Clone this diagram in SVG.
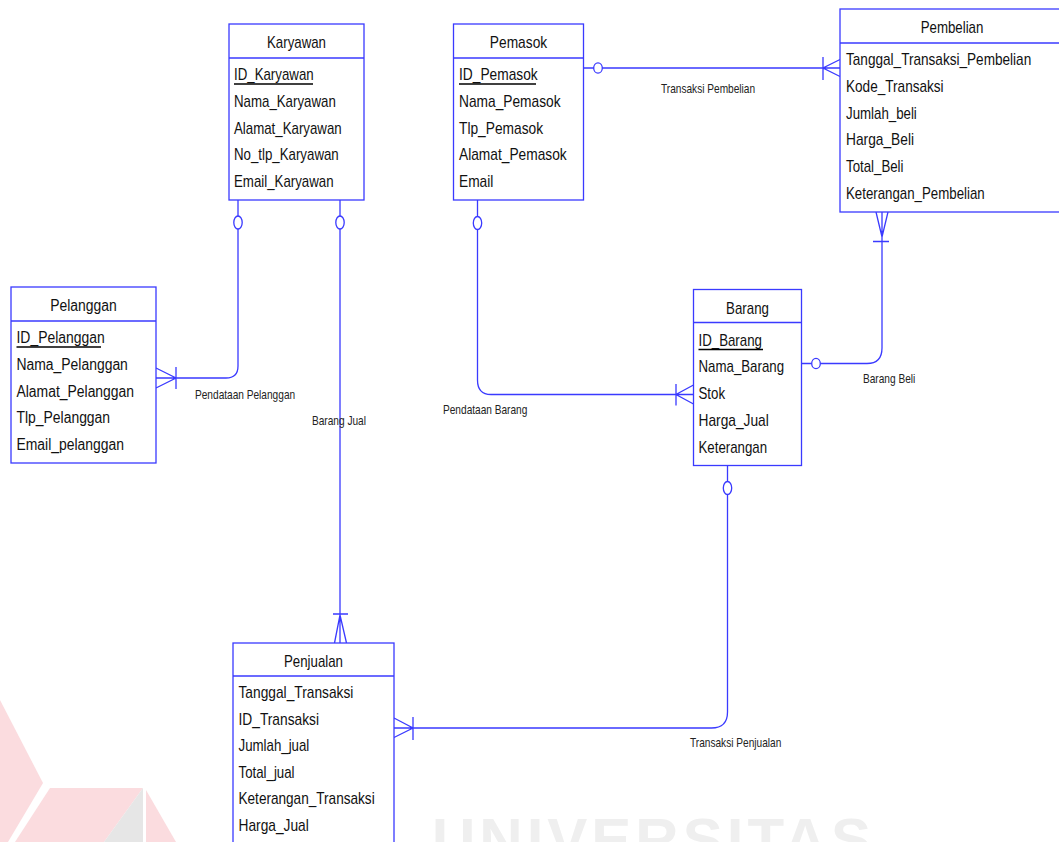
<svg xmlns="http://www.w3.org/2000/svg" width="1059" height="842" viewBox="0 0 1059 842">
<style>
.box{fill:#fff;stroke:#3a3aff;stroke-width:1.3}
.sep{stroke:#3a3aff;stroke-width:1.3}
.t{font-family:"Liberation Sans",Arial,sans-serif;font-size:16px;fill:#111}
.h{font-family:"Liberation Sans",Arial,sans-serif;font-size:16px;fill:#111;text-anchor:middle}
.lb{font-family:"Liberation Sans",Arial,sans-serif;font-size:13.5px;fill:#222}
.pk{stroke:#000;stroke-width:1.6}
.c{fill:none;stroke:#3a3aff;stroke-width:1.3}
.o{fill:#fff;stroke:#3a3aff;stroke-width:1.3}
</style>
<rect width="1059" height="842" fill="#fff"/>
<g id="watermark">
<polygon points="0,700 43,783 8,842 0,842" fill="#fbdcdf"/>
<polygon points="50,788 143,788 104,842 15,842" fill="#fbdcdf"/>
<polygon points="143,788 104,842 143,842" fill="#e6e6e6"/>
<polygon points="146,790 176,842 146,842" fill="#fbdcdf"/>
<text x="432" y="860" font-family="Liberation Sans,Arial,sans-serif" font-weight="bold" font-size="60" letter-spacing="4" fill="#efefef">UNIVERSITAS</text>
</g>
<g id="connectors">
<path class="c" d="M583.5 68 H840 M840 59.5 L823 68 L840 76.5 M823 57 V80"/>
<ellipse class="o" cx="598" cy="68" rx="4.3" ry="5.2"/>
<text class="lb" transform="translate(661 93) scale(0.75 1)">Transaksi Pembelian</text>
<path class="c" d="M238 200 V366 Q238 378 226 378 H156 M156 368 L176 378 L156 388 M176 367 V389"/>
<ellipse class="o" cx="238" cy="222.5" rx="4.2" ry="6.5"/>
<text class="lb" transform="translate(195 398.5) scale(0.75 1)">Pendataan Pelanggan</text>
<path class="c" d="M340 200 V643 M334.5 643 L340 615 L346.5 643 M333 614 H348"/>
<ellipse class="o" cx="340" cy="222.5" rx="4.2" ry="6.5"/>
<text class="lb" transform="translate(312 425) scale(0.75 1)">Barang Jual</text>
<path class="c" d="M477.5 200 V380 Q477.5 394.5 491 394.5 H693.5 M693.5 385 L676 394.5 L693.5 404 M676 384 V405.5"/>
<ellipse class="o" cx="477.5" cy="223" rx="4.2" ry="6.5"/>
<text class="lb" transform="translate(443 414) scale(0.75 1)">Pendataan Barang</text>
<path class="c" d="M882 212 V348 Q882 363.5 867 363.5 H802 M876 212 L882 237 L888 212 M873 241.5 H889"/>
<ellipse class="o" cx="816" cy="363.5" rx="4.3" ry="5.2"/>
<text class="lb" transform="translate(863 382.5) scale(0.75 1)">Barang Beli</text>
<path class="c" d="M727.5 465 V712 Q727.5 728 711.5 728 H394 M394 718 L413 728 L394 737.5 M413 717 V740"/>
<ellipse class="o" cx="727.5" cy="488" rx="4.2" ry="6.5"/>
<text class="lb" transform="translate(690 747) scale(0.75 1)">Transaksi Penjualan</text>
</g>
<g id="Karyawan">
<rect class="box" x="229" y="24" width="135" height="176"/>
<line class="sep" x1="229" y1="58" x2="364" y2="58"/>
<text class="h" transform="translate(296.5 48) scale(0.83 1)">Karyawan</text>
<text class="t" transform="translate(234 80) scale(0.83 1)">ID_Karyawan</text>
<line class="pk" x1="234" y1="84" x2="313" y2="84"/>
<text class="t" transform="translate(234 106.8) scale(0.83 1)">Nama_Karyawan</text>
<text class="t" transform="translate(234 133.6) scale(0.83 1)">Alamat_Karyawan</text>
<text class="t" transform="translate(234 160.4) scale(0.83 1)">No_tlp_Karyawan</text>
<text class="t" transform="translate(234 187.2) scale(0.83 1)">Email_Karyawan</text>
</g>
<g id="Pemasok">
<rect class="box" x="453.5" y="24" width="130" height="176"/>
<line class="sep" x1="453.5" y1="58" x2="583.5" y2="58"/>
<text class="h" transform="translate(518.5 48) scale(0.86 1)">Pemasok</text>
<text class="t" transform="translate(459 80) scale(0.86 1)">ID_Pemasok</text>
<line class="pk" x1="459" y1="84" x2="536" y2="84"/>
<text class="t" transform="translate(459 106.8) scale(0.86 1)">Nama_Pemasok</text>
<text class="t" transform="translate(459 133.6) scale(0.86 1)">Tlp_Pemasok</text>
<text class="t" transform="translate(459 160.4) scale(0.86 1)">Alamat_Pemasok</text>
<text class="t" transform="translate(459 187.2) scale(0.86 1)">Email</text>
</g>
<g id="Pembelian">
<rect class="box" x="840" y="9" width="224" height="203"/>
<line class="sep" x1="840" y1="43" x2="1064" y2="43"/>
<text class="h" transform="translate(952 33) scale(0.83 1)">Pembelian</text>
<text class="t" transform="translate(846 65) scale(0.85 1)">Tanggal_Transaksi_Pembelian</text>
<text class="t" transform="translate(846 91.8) scale(0.85 1)">Kode_Transaksi</text>
<text class="t" transform="translate(846 118.6) scale(0.83 1)">Jumlah_beli</text>
<text class="t" transform="translate(846 145.4) scale(0.86 1)">Harga_Beli</text>
<text class="t" transform="translate(846 172.2) scale(0.83 1)">Total_Beli</text>
<text class="t" transform="translate(846 199) scale(0.83 1)">Keterangan_Pembelian</text>
</g>
<g id="Pelanggan">
<rect class="box" x="11" y="287" width="145" height="176"/>
<line class="sep" x1="11" y1="321" x2="156" y2="321"/>
<text class="h" transform="translate(83.5 311) scale(0.87 1)">Pelanggan</text>
<text class="t" transform="translate(16.5 343) scale(0.87 1)">ID_Pelanggan</text>
<line class="pk" x1="16.5" y1="347" x2="101" y2="347"/>
<text class="t" transform="translate(16.5 369.8) scale(0.87 1)">Nama_Pelanggan</text>
<text class="t" transform="translate(16.5 396.6) scale(0.87 1)">Alamat_Pelanggan</text>
<text class="t" transform="translate(16.5 423.4) scale(0.87 1)">Tlp_Pelanggan</text>
<text class="t" transform="translate(16.5 450.2) scale(0.87 1)">Email_pelanggan</text>
</g>
<g id="Barang">
<rect class="box" x="693.5" y="289.5" width="108" height="176"/>
<line class="sep" x1="693.5" y1="322.5" x2="801.5" y2="322.5"/>
<text class="h" transform="translate(747.5 313.5) scale(0.83 1)">Barang</text>
<text class="t" transform="translate(698.5 345.5) scale(0.83 1)">ID_Barang</text>
<line class="pk" x1="698.5" y1="349.5" x2="763" y2="349.5"/>
<text class="t" transform="translate(698.5 372.3) scale(0.83 1)">Nama_Barang</text>
<text class="t" transform="translate(698.5 399.1) scale(0.83 1)">Stok</text>
<text class="t" transform="translate(698.5 425.9) scale(0.86 1)">Harga_Jual</text>
<text class="t" transform="translate(698.5 452.7) scale(0.83 1)">Keterangan</text>
</g>
<g id="Penjualan">
<rect class="box" x="233" y="643" width="161" height="250"/>
<line class="sep" x1="233" y1="676" x2="394" y2="676"/>
<text class="h" transform="translate(313.5 667) scale(0.83 1)">Penjualan</text>
<text class="t" transform="translate(238.5 698) scale(0.86 1)">Tanggal_Transaksi</text>
<text class="t" transform="translate(238.5 724.6) scale(0.86 1)">ID_Transaksi</text>
<text class="t" transform="translate(238.5 751.2) scale(0.83 1)">Jumlah_jual</text>
<text class="t" transform="translate(238.5 777.8) scale(0.83 1)">Total_jual</text>
<text class="t" transform="translate(238.5 804.4) scale(0.85 1)">Keterangan_Transaksi</text>
<text class="t" transform="translate(238.5 831) scale(0.86 1)">Harga_Jual</text>
</g>
</svg>
